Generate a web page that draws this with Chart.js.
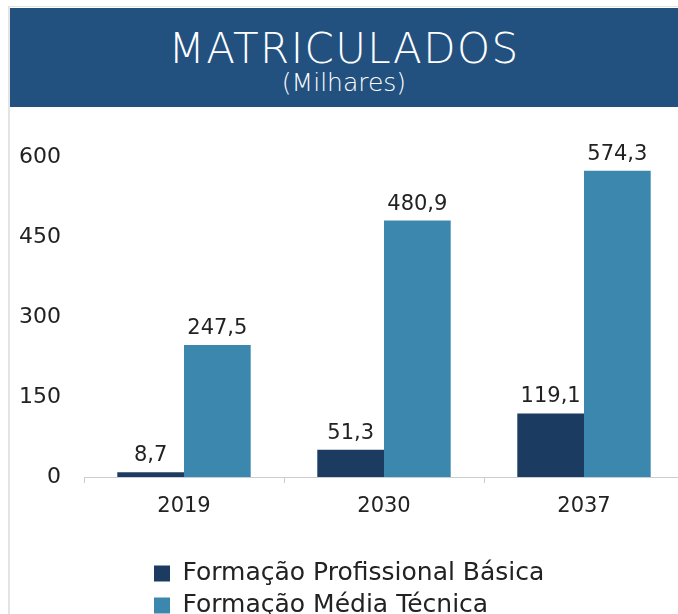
<!DOCTYPE html>
<html><head><meta charset="utf-8">
<script src="https://cdn.jsdelivr.net/npm/chart.js@4"></script>
<style>
html,body{margin:0;padding:0;background:#fff;overflow:hidden;width:678px;height:614px;position:relative;}
#frame{position:absolute;left:8px;top:6px;width:680px;height:620px;border-left:2px solid #e4e4e4;border-top:1px solid #e4e4e4;}
#hdr{position:absolute;left:10px;top:8px;width:668px;height:99px;background:#23517f;color:#fff;font-family:"DejaVu Sans",sans-serif;text-align:center;}
#t1{position:absolute;left:0;right:0;top:20px;font-size:42px;line-height:42px;font-weight:200;letter-spacing:1.4px;}
#t2{position:absolute;left:0;right:0;top:62px;font-size:25px;line-height:25px;font-weight:200;}
#wrap{position:absolute;left:0;top:107px;width:690px;height:521px;}
</style>
</head><body>
<div id="frame"></div>
<div id="hdr"><div id="t1">MATRICULADOS</div><div id="t2">(Milhares)</div></div>
<div id="wrap"><canvas id="c" width="690" height="521"></canvas></div>
<script>
const categories = ['2019', '2030', '2037'];
const seriesNames = ['Formação Profissional Básica', 'Formação Média Técnica'];
const basica = [8.7, 51.3, 119.1];
const media = [247.5, 480.9, 574.3];
const yTicks = [0, 150, 300, 450, 600];

const FONT = '"DejaVu Sans", sans-serif';
const TXT = '#222222';

const fmt = v => v.toFixed(1).replace('.', ',');

const dataLabels = {
  id: 'dataLabels',
  afterDatasetsDraw(chart) {
    const ctx = chart.ctx;
    ctx.save();
    ctx.font = '21px ' + FONT;
    ctx.fillStyle = TXT;
    ctx.textAlign = 'center';
    ctx.textBaseline = 'alphabetic';
    chart.data.datasets.forEach((ds, i) => {
      chart.getDatasetMeta(i).data.forEach((bar, j) => {
        ctx.fillText(fmt(ds.data[j]), bar.x, bar.y - 11);
      });
    });
    ctx.restore();
  }
};

const legendShift = {
  id: 'legendShift',
  afterLayout(chart) {
    const l = chart.legend;
    if (!l) return;
    const w = l.right - l.left;
    l.left = 147;
    l.right = 147 + w;
  }
};

new Chart(document.getElementById('c'), {
  type: 'bar',
  data: {
    labels: categories,
    datasets: [
      { label: seriesNames[0], data: basica, backgroundColor: '#1b3c60', borderWidth: 0 },
      { label: seriesNames[1], data: media, backgroundColor: '#3b87ae', borderWidth: 0 }
    ]
  },
  options: {
    responsive: false,
    animation: false,
    devicePixelRatio: 1,
    datasets: { bar: { categoryPercentage: 0.667, barPercentage: 1 } },
    layout: { padding: { top: 50, right: 6, left: 0, bottom: 0 } },
    plugins: {
      title: { display: false },
      tooltip: { enabled: false },
      legend: {
        display: true,
        position: 'bottom',
        align: 'start',
        labels: {
          boxWidth: 16,
          boxHeight: 16,
          padding: 7,
          color: TXT,
          font: { family: FONT, size: 25 }
        }
      }
    },
    scales: {
      x: {
        grid: { display: true, drawOnChartArea: false, drawTicks: true, tickLength: 6, color: '#c9cdd2', offset: true },
        border: { display: true, color: '#c9cdd2', width: 1 },
        ticks: { color: TXT, font: { family: FONT, size: 21 }, padding: 11, maxRotation: 0 },
        afterFit: axis => { axis.height = 77; }
      },
      y: {
        min: 0,
        max: 600,
        grid: { display: false, drawTicks: false },
        border: { display: false },
        ticks: { color: TXT, font: { family: FONT, size: 22 }, padding: 23 },
        afterBuildTicks: axis => { axis.ticks = yTicks.map(v => ({ value: v })); },
        afterFit: axis => { axis.width = 84; }
      }
    }
  },
  plugins: [dataLabels, legendShift]
});
</script>
</body></html>
